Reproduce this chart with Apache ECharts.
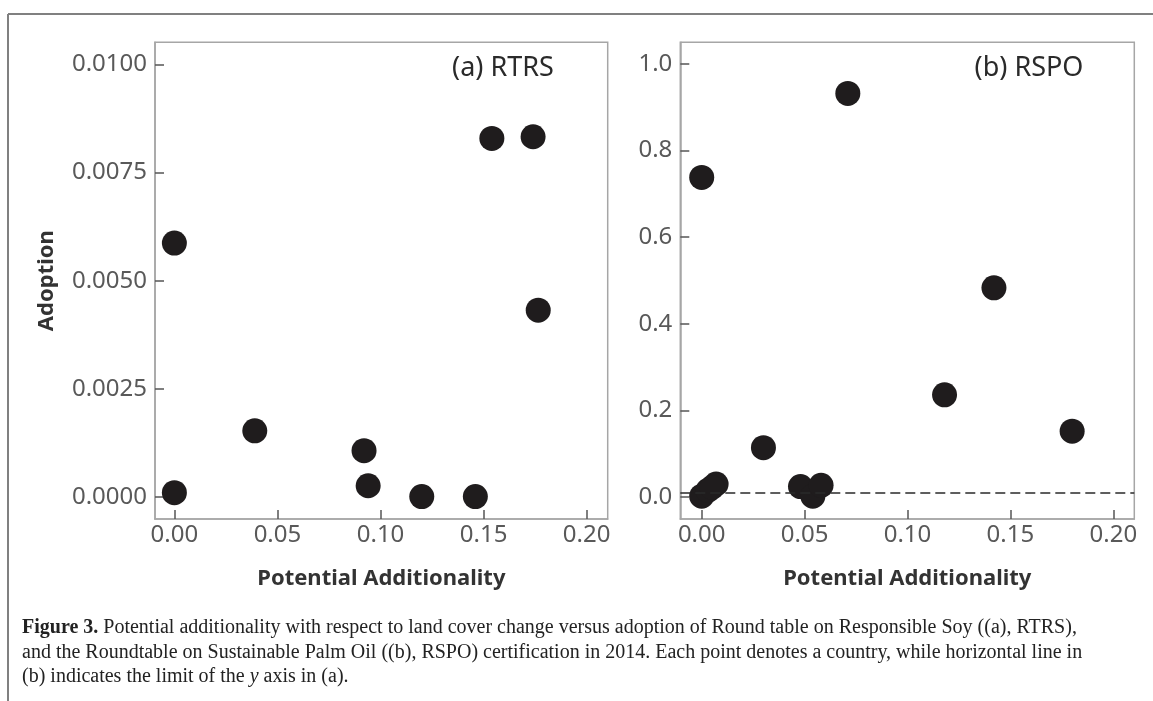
<!DOCTYPE html>
<html>
<head>
<meta charset="utf-8">
<script src="https://cdn.jsdelivr.net/npm/echarts@6/dist/echarts.min.js"></script>
<style>
html,body{margin:0;padding:0;background:#fff;}
#chart{width:1153px;height:701px;}
</style>
</head>
<body>
<div id="chart"></div>
<script>
// ---- data ----
const rtrsX = [0.000, 0.000, 0.039, 0.092, 0.094, 0.120, 0.146, 0.154, 0.174, 0.1765];
const rtrsY = [0.00587, 0.00010, 0.00153, 0.00107, 0.00026, 0.00001, 0.00001, 0.00829, 0.00833, 0.00432];
const rspoX = [0.000, 0.000, 0.003, 0.007, 0.005, 0.030, 0.048, 0.054, 0.058, 0.071, 0.118, 0.142, 0.180];
const rspoY = [0.738, 0.002, 0.015, 0.030, 0.022, 0.114, 0.024, 0.002, 0.027, 0.932, 0.236, 0.483, 0.152];
const xTicks = [0, 0.05, 0.10, 0.15, 0.20];
const yTicksA = [0, 0.0025, 0.005, 0.0075, 0.01];
const yTicksB = [0, 0.2, 0.4, 0.6, 0.8, 1.0];
const limitA = 0.0105;
const panelTitles = ['(a) RTRS', '(b) RSPO'];
const xName = 'Potential Additionality';
const yName = 'Adoption';
const captionLines = [
  ['Figure 3.', ' Potential additionality with respect to land cover change versus adoption of Round table on Responsible Soy ((a), RTRS),'],
  ['', 'and the Roundtable on Sustainable Palm Oil ((b), RSPO) certification in 2014. Each point denotes a country, while horizontal line in'],
  ['', '(b) indicates the limit of the {i|y} axis in (a).']
];

const FONT = '"Noto Sans", "Open Sans", sans-serif';
const SERIF = '"Liberation Serif", serif';
const zip = (xs, ys) => xs.map((x, i) => [x, ys[i]]);

const chart = echarts.init(document.getElementById('chart'), null, {renderer: 'canvas'});

function xAxisCfg(gridIndex, min, max, withName) {
  return {
    type: 'value', gridIndex, min, max,
    splitLine: {show: false},
    axisLine: {show: true, onZero: false, lineStyle: {color: '#a6a6a6', width: 1.5}},
    axisTick: {show: true, inside: true, length: 9, customValues: xTicks, lineStyle: {color: '#555', width: 1.5}},
    axisLabel: {customValues: xTicks, formatter: v => v.toFixed(2), color: '#595959', fontSize: 24, fontFamily: FONT, margin: 4},
    name: withName ? xName : '',
    nameLocation: 'middle', nameGap: 49,
    nameTextStyle: {fontSize: 22, fontWeight: 'bold', color: '#333', fontFamily: FONT}
  };
}
function yAxisCfg(gridIndex, min, max, ticks, dec, withName) {
  return {
    type: 'value', gridIndex, min, max,
    splitLine: {show: false},
    axisLine: {show: true, onZero: false, lineStyle: {color: '#a6a6a6', width: 1.5}},
    axisTick: {show: true, inside: true, length: 9, customValues: ticks, lineStyle: {color: '#555', width: 1.5}},
    axisLabel: {customValues: ticks, formatter: v => v.toFixed(dec), color: '#595959', fontSize: 24, fontFamily: FONT, margin: 8},
    name: withName ? yName : '',
    nameLocation: 'middle', nameGap: 97, nameRotate: 90,
    nameTextStyle: {fontSize: 22, fontWeight: 'bold', color: '#333', fontFamily: FONT}
  };
}

const captionGraphics = captionLines.map((ln, i) => ({
  type: 'text', left: 22, top: 618 + i * 24.5,
  style: {
    text: (ln[0] ? '{b|' + ln[0] + '}' : '') + ln[1],
    font: '20px ' + SERIF,
    fill: '#222',
    rich: {
      b: {fontWeight: 'bold', fontSize: 20, fontFamily: SERIF, fill: '#222', color: '#222'},
      i: {fontStyle: 'italic', fontSize: 20, fontFamily: SERIF, fill: '#222', color: '#222'}
    }
  }
}));

chart.setOption({
  animation: false,
  backgroundColor: '#fff',
  grid: [
    {left: 155, top: 42.3, width: 452.7, height: 476.7, show: true, borderColor: '#a6a6a6', borderWidth: 1.5, backgroundColor: 'transparent'},
    {left: 680.3, top: 42.3, width: 454, height: 476.7, show: true, borderColor: '#a6a6a6', borderWidth: 1.5, backgroundColor: 'transparent'}
  ],
  xAxis: [
    xAxisCfg(0, -0.0094, 0.2102, true),
    xAxisCfg(1, -0.0104, 0.2102, true)
  ],
  yAxis: [
    yAxisCfg(0, -0.000509, 0.010513, yTicksA, 4, true),
    yAxisCfg(1, -0.0508, 1.050, yTicksB, 1, false)
  ],
  series: [
    {type: 'scatter', xAxisIndex: 0, yAxisIndex: 0, data: zip(rtrsX, rtrsY), symbolSize: 25,
     itemStyle: {color: '#1f1c1d', opacity: 1}},
    {type: 'scatter', xAxisIndex: 1, yAxisIndex: 1, data: zip(rspoX, rspoY), symbolSize: 25,
     itemStyle: {color: '#1f1c1d', opacity: 1},
     markLine: {silent: true, symbol: 'none', label: {show: false},
       lineStyle: {color: '#2a2a2a', type: [10, 5], width: 1.5},
       data: [{yAxis: limitA}]}}
  ],
  graphic: [
    {type: 'line', shape: {x1: 8, y1: 14, x2: 1153, y2: 14}, style: {stroke: '#808080', lineWidth: 2}},
    {type: 'line', shape: {x1: 8, y1: 14, x2: 8, y2: 701}, style: {stroke: '#808080', lineWidth: 2}},
    {type: 'text', x: 503, y: 68, style: {text: panelTitles[0], textAlign: 'center', textVerticalAlign: 'middle', font: '27px ' + FONT, fill: '#2a2a2a'}},
    {type: 'text', x: 1029, y: 68, style: {text: panelTitles[1], textAlign: 'center', textVerticalAlign: 'middle', font: '27px ' + FONT, fill: '#2a2a2a'}}
  ].concat(captionGraphics)
});
</script>
</body>
</html>
